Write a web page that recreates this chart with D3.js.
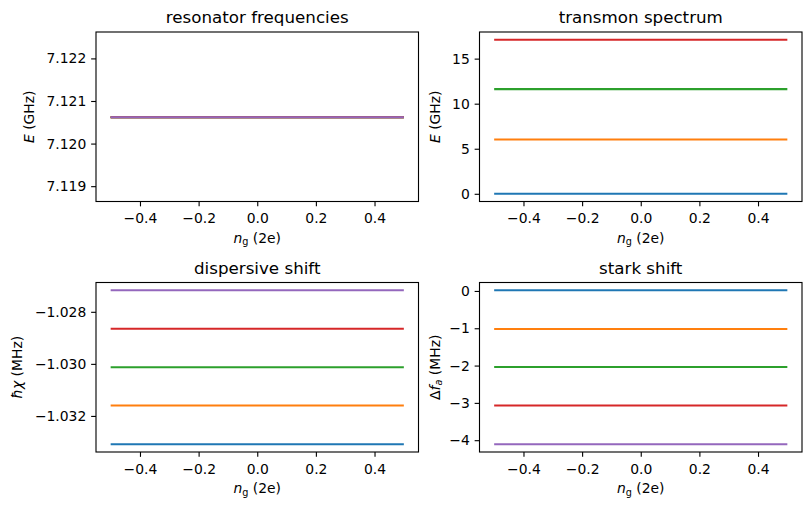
<!DOCTYPE html>
<html>
<head>
<meta charset="utf-8">
<script src="https://cdn.jsdelivr.net/npm/d3@7"></script>
<style>
  body { margin: 0; background: #fff; }
  svg { display: block; font-family: "DejaVu Sans", sans-serif; }
</style>
</head>
<body>
<svg id="fig" width="811" height="511"></svg>
<script>
// gate charge sweep, shared by all four panels
var ngValues = [-0.5, -0.25, 0, 0.25, 0.5]

// resonator frequencies (GHz), one line per transmon level - they sit on top of each other
var resonatorFreqs = [
    [7.12062, 7.12062, 7.12062, 7.12062, 7.12062],
    [7.12062, 7.12062, 7.12062, 7.12062, 7.12062],
    [7.12062, 7.12062, 7.12062, 7.12062, 7.12062],
    [7.12062, 7.12062, 7.12062, 7.12062, 7.12062],
    [7.12062, 7.12062, 7.12062, 7.12062, 7.12062]
]
// transmon spectrum (GHz)
var transmonLevels = [
    [0, 0, 0, 0, 0],
    [6.03, 6.03, 6.03, 6.03, 6.03],
    [11.62, 11.62, 11.62, 11.62, 11.62],
    [17.1, 17.1, 17.1, 17.1, 17.1]
]
// dispersive shift (MHz)
var dispersiveShift = [
    [-1.03309, -1.03309, -1.03309, -1.03309, -1.03309],
    [-1.03160, -1.03160, -1.03160, -1.03160, -1.03160],
    [-1.03013, -1.03013, -1.03013, -1.03013, -1.03013],
    [-1.02865, -1.02865, -1.02865, -1.02865, -1.02865],
    [-1.02717, -1.02717, -1.02717, -1.02717, -1.02717]
]
// stark shift (MHz)
var starkShift = [
    [0.02, 0.02, 0.02, 0.02, 0.02],
    [-1.02, -1.02, -1.02, -1.02, -1.02],
    [-2.04, -2.04, -2.04, -2.04, -2.04],
    [-3.07, -3.07, -3.07, -3.07, -3.07],
    [-4.11, -4.11, -4.11, -4.11, -4.11]
]

var colors = ["#1f77b4", "#ff7f0e", "#2ca02c", "#d62728", "#9467bd"]

var xTicks = [-0.4, -0.2, 0.0, 0.2, 0.4]
var resonatorTicks = [7.119, 7.120, 7.121, 7.122]
var transmonTicks = [0, 5, 10, 15]
var dispersiveTicks = [-1.032, -1.030, -1.028]
var starkTicks = [0, -1, -2, -3, -4]

var titles = ["resonator frequencies", "transmon spectrum", "dispersive shift", "stark shift"]

var svg = d3.select("#fig")
var pt = 100 / 72

var panels = [
    {title: titles[0], series: resonatorFreqs, ticks: resonatorTicks, fmt: d3.format(".3f"),
     x: 96, y: 32, domain: [7.11864, 7.12262], labOff: 62, ylab: "E"},
    {title: titles[1], series: transmonLevels, ticks: transmonTicks, fmt: d3.format("d"),
     x: 479.5, y: 32, labOff: 40, ylab: "E"},
    {title: titles[2], series: dispersiveShift, ticks: dispersiveTicks, fmt: d3.format(".3f"),
     x: 96, y: 282.5, labOff: 74, ylab: "chi"},
    {title: titles[3], series: starkShift, ticks: starkTicks, fmt: d3.format("d"),
     x: 479.5, y: 282.5, labOff: 40, ylab: "df"}
]
var W = 322.5, H = 169.5

function padded(ext) {
    var m = (ext[1] - ext[0]) * 0.05
    return [ext[0] - m, ext[1] + m]
}

panels.forEach(function (p) {
    var g = svg.append("g").attr("transform", "translate(" + p.x + "," + p.y + ")")

    var xScale = d3.scaleLinear().domain(padded([-0.5, 0.5])).range([0, W])
    var yDomain = p.domain || padded(d3.extent(d3.merge(p.series)))
    var yScale = d3.scaleLinear().domain(yDomain).range([H, 0])

    var line = d3.line()
        .x(function (d, i) { return xScale(ngValues[i]) })
        .y(function (d) { return yScale(d) })

    g.selectAll(".lvl")
        .data(p.series)
        .enter()
        .append("path")
        .attr("class", "lvl")
        .attr("fill", "none")
        .attr("stroke", function (d, i) { return colors[i] })
        .attr("stroke-width", 1.5 * pt)
        .attr("d", line)

    // axes
    var xAxis = g.append("g").attr("transform", "translate(0," + H + ")")
        .call(d3.axisBottom(xScale).tickValues(xTicks).tickFormat(d3.format(".1f"))
              .tickSize(3.5 * pt).tickPadding(7))
    var yAxis = g.append("g")
        .call(d3.axisLeft(yScale).tickValues(p.ticks).tickFormat(p.fmt)
              .tickSize(3.5 * pt).tickPadding(3.5 * pt))
    ;[xAxis, yAxis].forEach(function (a) {
        a.select(".domain").remove()
        a.selectAll("line").attr("stroke", "#000").attr("stroke-width", 0.8 * pt)
        a.selectAll("text").attr("font-size", 13.9).attr("fill", "#000")
            .attr("font-family", "DejaVu Sans")
    })

    g.append("rect")
        .attr("width", W).attr("height", H)
        .attr("fill", "none").attr("stroke", "#000").attr("stroke-width", 0.8 * pt)

    // title
    g.append("text")
        .attr("x", W / 2).attr("y", -9)
        .attr("text-anchor", "middle")
        .attr("font-size", 16.7)
        .text(p.title)

    // x label: n_g (2e)
    var xl = g.append("text")
        .attr("x", W / 2).attr("y", H + 41)
        .attr("text-anchor", "middle")
        .attr("font-size", 13.9)
    xl.append("tspan").attr("font-style", "italic").text("n")
    xl.append("tspan").attr("font-size", 9.7).attr("dy", 2.5).text("g")
    xl.append("tspan").attr("dy", -2.5).text(" (2e)")

    // y label
    var yl = g.append("text")
        .attr("transform", "translate(" + (-p.labOff) + "," + (H / 2) + ") rotate(-90)")
        .attr("text-anchor", "middle")
        .attr("font-size", 13.9)
    if (p.ylab == "E") {
        yl.append("tspan").attr("font-style", "italic").text("E")
        yl.append("tspan").text(" (GHz)")
    } else if (p.ylab == "chi") {
        yl.append("tspan").attr("font-style", "italic").text("ħχ")
        yl.append("tspan").text(" (MHz)")
    } else {
        yl.append("tspan").text("Δ")
        yl.append("tspan").attr("font-style", "italic").text("f")
        yl.append("tspan").attr("font-style", "italic").attr("font-size", 9.7).attr("dy", 2.5).text("a")
        yl.append("tspan").attr("dy", -2.5).text(" (MHz)")
    }
})
</script>
</body>
</html>
